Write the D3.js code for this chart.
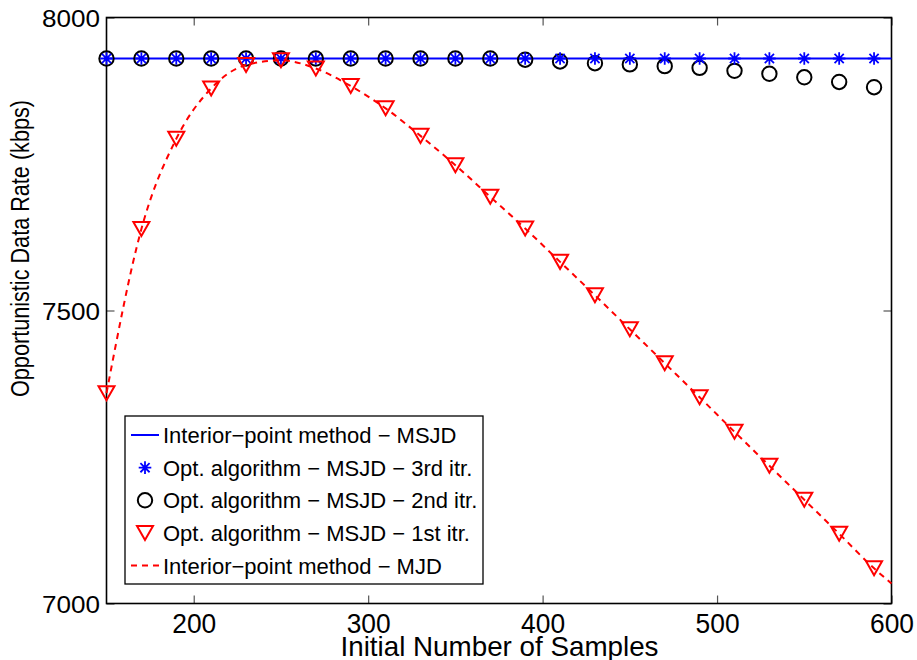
<!DOCTYPE html>
<html>
<head>
<meta charset="utf-8">
<script src="https://cdn.jsdelivr.net/npm/d3@7"></script>
<style>
  html, body { margin: 0; padding: 0; background: #fff; }
  svg { display: block; font-family: "Liberation Sans", Arial, Helvetica, sans-serif; }
</style>
</head>
<body>
<svg id="chart" width="917" height="660"></svg>
<script>
// ---- data ----
const samples = [150,170,190,210,230,250,270,290,310,330,350,370,390,410,430,450,470,490,510,530,550,570,590];
const lineX = [150,170,190,210,230,250,270,290,310,330,350,370,390,410,430,450,470,490,510,530,550,570,590,600];
const interiorMSJD = [7930,7930,7930,7930,7930,7930,7930,7930,7930,7930,7930,7930,7930,7930,7930,7930,7930,7930,7930,7930,7930,7930,7930,7930];
const opt3rd = [7930,7930,7930,7930,7930,7930,7930,7930,7930,7930,7930,7930,7930,7930,7930,7930,7930,7930,7930,7930,7930,7930,7930];
const opt2nd = [7930,7930,7930,7930,7930,7930,7930,7930,7930,7930,7930,7930,7928,7925,7922,7920,7917,7914,7909,7904,7898,7890,7881];
const opt1st = [7359,7639,7793,7879,7919,7927,7913,7883,7845,7798,7748,7694,7640,7583,7526,7468,7410,7352,7293,7235,7177,7119,7060];
const interiorMJD = [7359,7639,7793,7879,7919,7927,7913,7883,7845,7798,7748,7694,7640,7583,7526,7468,7410,7352,7293,7235,7177,7119,7060,7034];
const xTicks = [200,300,400,500,600];
const yTicks = [7000,7500,8000];
const legendLabels = [
  "Interior\u2212point method \u2212 MSJD",
  "Opt. algorithm \u2212 MSJD \u2212 3rd itr.",
  "Opt. algorithm \u2212 MSJD \u2212 2nd itr.",
  "Opt. algorithm \u2212 MSJD \u2212 1st itr.",
  "Interior\u2212point method \u2212 MJD"
];
const xTitle = "Initial Number of Samples";
const yTitle = "Opportunistic Data Rate (kbps)";

// ---- layout ----
const L = 106.5, R = 891.5, T = 17.5, B = 603.5;
const svg = d3.select("#chart");
const x = d3.scaleLinear().domain([150, 600]).range([L, R]);
const y = d3.scaleLinear().domain([7000, 8000]).range([B, T]);

svg.append("rect").attr("width", 917).attr("height", 660).attr("fill", "#fff");

// ---- axes ----
function styleAxis(g) {
  g.select(".domain").remove();
  g.selectAll(".tick line").attr("stroke", "#555").attr("stroke-width", 1.2);
}
const gx = svg.append("g").attr("transform", `translate(0,${B})`)
  .call(d3.axisBottom(x).tickValues(xTicks).tickSizeInner(-8).tickSizeOuter(0).tickPadding(0).tickFormat(d3.format("d")));
styleAxis(gx);
gx.selectAll(".tick text")
  .attr("y", 29.5).attr("dy", null)
  .attr("font-size", 27).attr("fill", "#000")
  .attr("font-family", "'Liberation Sans', Arial, sans-serif")
  .attr("textLength", 44).attr("lengthAdjust", "spacingAndGlyphs");

const gxt = svg.append("g").attr("transform", `translate(0,${T})`)
  .call(d3.axisTop(x).tickValues(xTicks).tickSizeInner(-8).tickSizeOuter(0).tickFormat(""));
styleAxis(gxt);

const gy = svg.append("g").attr("transform", `translate(${L},0)`)
  .call(d3.axisLeft(y).tickValues(yTicks).tickSizeInner(-8).tickSizeOuter(0).tickPadding(0).tickFormat(d3.format("d")));
styleAxis(gy);
gy.selectAll(".tick text")
  .attr("x", -6.5).attr("dy", null).attr("y", 8.5)
  .attr("font-size", 24).attr("fill", "#000")
  .attr("font-family", "'Liberation Sans', Arial, sans-serif")
  .attr("textLength", 58).attr("lengthAdjust", "spacingAndGlyphs");

const gyr = svg.append("g").attr("transform", `translate(${R},0)`)
  .call(d3.axisRight(y).tickValues(yTicks).tickSizeInner(-8).tickSizeOuter(0).tickFormat(""));
styleAxis(gyr);

// frame
svg.append("rect").attr("x", L).attr("y", T).attr("width", R - L).attr("height", B - T)
  .attr("fill", "none").attr("stroke", "#000").attr("stroke-width", 1.6);

// titles
svg.append("text").attr("x", (L + R) / 2 + 0.5).attr("y", 656)
  .attr("text-anchor", "middle").attr("font-size", 28).attr("fill", "#000")
  .attr("textLength", 318).attr("lengthAdjust", "spacingAndGlyphs")
  .text(xTitle);
svg.append("text").attr("transform", "translate(29,248.5) rotate(-90)")
  .attr("text-anchor", "middle").attr("font-size", 25).attr("fill", "#000")
  .attr("textLength", 297).attr("lengthAdjust", "spacingAndGlyphs")
  .text(yTitle);

// ---- marks ----
const blue = "#0000ff", red = "#ff0000";

// interior point MSJD (blue solid)
svg.append("path")
  .datum(lineX.map((d, i) => [d, interiorMSJD[i]]))
  .attr("fill", "none").attr("stroke", blue).attr("stroke-width", 2)
  .attr("d", d3.line().x(d => x(d[0])).y(d => y(d[1])));

// circles (2nd itr)
svg.append("g").selectAll("circle")
  .data(samples.map((d, i) => [d, opt2nd[i]]))
  .join("circle")
  .attr("cx", d => x(d[0])).attr("cy", d => y(d[1])).attr("r", 7.2)
  .attr("fill", "none").attr("stroke", "#000").attr("stroke-width", 2);

// stars (3rd itr)
const starPath = (() => {
  const a = 6.3, b = 4.6;
  return `M0,${-a}V${a}M${-a},0H${a}M${-b},${-b}L${b},${b}M${-b},${b}L${b},${-b}`;
})();
svg.append("g").selectAll("path")
  .data(samples.map((d, i) => [d, opt3rd[i]]))
  .join("path")
  .attr("transform", d => `translate(${x(d[0])},${y(d[1])})`)
  .attr("d", starPath).attr("fill", "none").attr("stroke", blue).attr("stroke-width", 1.8);

// triangles (1st itr)
const triPath = "M-8,-7H8L0,7Z";
svg.append("g").selectAll("path")
  .data(samples.map((d, i) => [d, opt1st[i]]))
  .join("path")
  .attr("transform", d => `translate(${x(d[0])},${y(d[1])})`)
  .attr("d", triPath).attr("fill", "none").attr("stroke", red).attr("stroke-width", 2)
  .attr("stroke-linejoin", "miter");

// interior point MJD (red dashed)
svg.append("path")
  .datum(lineX.map((d, i) => [d, interiorMJD[i]]))
  .attr("fill", "none").attr("stroke", red).attr("stroke-width", 2)
  .attr("stroke-dasharray", "6,5")
  .attr("d", d3.line().curve(d3.curveMonotoneX).x(d => x(d[0])).y(d => y(d[1])));

// ---- legend ----
const lg = svg.append("g");
lg.append("rect").attr("x", 125).attr("y", 416).attr("width", 358).attr("height", 168)
  .attr("fill", "#fff").attr("stroke", "#000").attr("stroke-width", 1.3);
const rowY = i => 435 + i * 32.65;
lg.selectAll("text").data(legendLabels).join("text")
  .attr("x", 163).attr("y", (d, i) => rowY(i) + 8)
  .attr("font-size", 22).attr("fill", "#000").text(d => d);
// samples
lg.append("line").attr("x1", 131).attr("x2", 159).attr("y1", rowY(0)).attr("y2", rowY(0))
  .attr("stroke", blue).attr("stroke-width", 2);
lg.append("path").attr("transform", `translate(145,${rowY(1)})`).attr("d", starPath)
  .attr("fill", "none").attr("stroke", blue).attr("stroke-width", 1.8);
lg.append("circle").attr("cx", 145).attr("cy", rowY(2)).attr("r", 7.2)
  .attr("fill", "none").attr("stroke", "#000").attr("stroke-width", 2);
lg.append("path").attr("transform", `translate(145,${rowY(3)})`).attr("d", triPath)
  .attr("fill", "none").attr("stroke", red).attr("stroke-width", 2);
lg.append("line").attr("x1", 131).attr("x2", 159).attr("y1", rowY(4)).attr("y2", rowY(4))
  .attr("stroke", red).attr("stroke-width", 2).attr("stroke-dasharray", "6,5");
</script>
</body>
</html>
